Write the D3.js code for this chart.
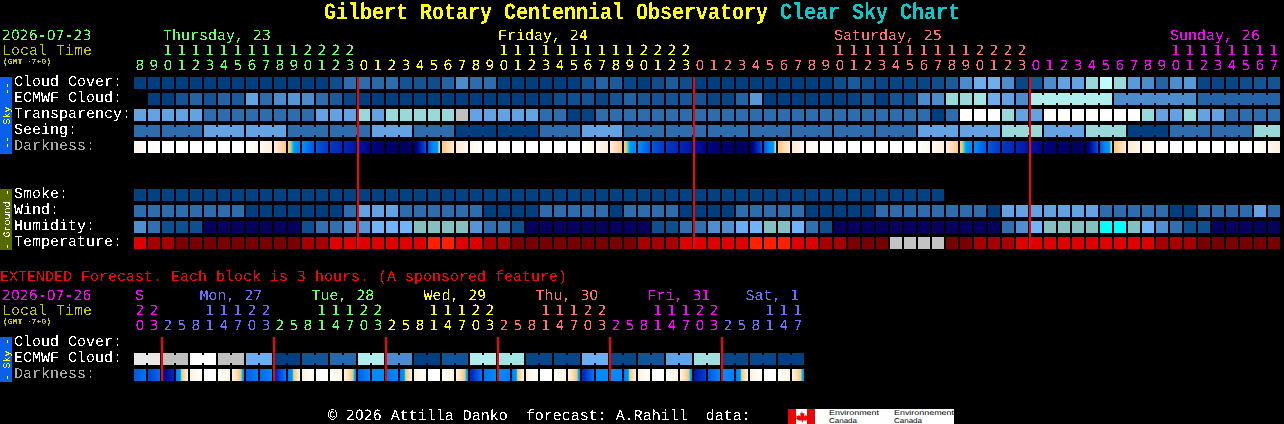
<!DOCTYPE html>
<html><head><meta charset="utf-8">
<style>html,body{margin:0;padding:0;background:#000;overflow:hidden}svg{display:block}
text{font-family:"Liberation Mono",monospace;font-size:15px;white-space:pre;text-rendering:geometricPrecision}</style>
<script src="https://cdn.jsdelivr.net/npm/d3@7/dist/d3.min.js"></script></head><body>
<script>
// ---------- data ----------
const hours=[8,9,10,11,12,13,14,15,16,17,18,19,20,21,22,23,
0,1,2,3,4,5,6,7,8,9,10,11,12,13,14,15,16,17,18,19,20,21,22,23,
0,1,2,3,4,5,6,7,8,9,10,11,12,13,14,15,16,17,18,19,20,21,22,23,
0,1,2,3,4,5,6,7,8,9,10,11,12,13,14,15,16,17];
const extHours=[20,23,2,5,8,11,14,17,20,23,2,5,8,11,14,17,20,23,2,5,8,11,14,17,20,23,2,5,8,11,14,17,20,23,2,5,8,11,14,17,20,23,2,5,8,11,14,17];
const mainDays=[{label:"Thursday, 23",start:2,from:0,to:16,color:"#66ff66"},{label:"Friday, 24",start:25.93,from:16,to:40,color:"#ffff00"},{label:"Saturday, 25",start:49.93,from:40,to:64,color:"#ff7070"},{label:"Sunday, 26",start:73.93,from:64,to:82,color:"#ff00ff"}];
const extDays=[{label:"S",start:0,from:0,to:2,color:"#ff00ff"},{label:"Mon, 27",start:4.6,from:2,to:10,color:"#6f6fff"},{label:"Tue, 28",start:12.6,from:10,to:18,color:"#66ff66"},{label:"Wed, 29",start:20.6,from:18,to:26,color:"#ffff00"},{label:"Thu, 30",start:28.6,from:26,to:34,color:"#ff7070"},{label:"Fri, 31",start:36.6,from:34,to:42,color:"#ff00ff"},{label:"Sat, 1",start:43.6,from:42,to:48,color:"#6f6fff"}];
const cloud=[0,0,0,0,0,0,0,0,0,0,0,0,0,0,1,3,3,2.8,3,1.5,1.5,1,2.5,4,3,3,0,0,0,0,0,0,1.5,2.5,2,.5,0,1,2,1,0,0,0,0,0,0,0,0,0,0,1,2,1,.5,.5,.5,.5,1,2,4,5.5,5.5,4,.5,1.5,4,5,5,7,9,7,4.6,4,2.5,4,4.5,.5,.5,.5,1,1.5,1.5];
const ecmwf=[null,0,0,1.5,2.5,1.5,2.5,2,5,3,4,4.4,4,3,2,.5,0,0,0,0,0,0,0,0,0,0,0,0,0,0,1,1.2,1.5,.5,1.5,2.4,1.7,1.5,1.5,1.7,1.5,.5,.5,2.5,4.5,0,0,0,0,0,0,.3,1.5,0,1.5,1,4,4,7,7,7.5,5.5,5,4,8,8,8,8,8,8,4,4,4,4,4,4,2.5,2.5,2.5,2.5,2.5,2.5];
const ecmwfSpans=[64,6,6,6];
const transparency=[5,5,5,5,5,3,3,3,3,3,3,3,3,5,5,5,7,5,7,7,7,7,7,11,5,5,5,5,5,3,3,0,.3,3,3,3,3,3,3,3,3,3,3,3,3,3,3,3,3,3,3,3,3,3,3,3,3,0,3,10,10,10,7,5,5,10,10,10,10,10,10,10,7,5,5,7,5,5,3,3,3,3];
const seeing=[3,3,3,3,3,5,5,5,5,5,5,3,3,3,3,3,3,5,5,5,3,3,3,0,0,0,0,0,0,3,3,3,5,5,5,3,3,3,3,3,3,3,3,3,3,3,3,3,3,3,3,3,3,3,3,3,5,5,5,5,5,5,7,7,7,5,5,5,7,7,7,0,0,0,3,3,3,3,3,3,7,7];
const seeingSpans=[2,3,3,3,3,3,3,3,3,3,3,3,3,3,3,3,3,3,3,3,3,3,3,3,3,3,3,2];
const darkEdges=[1,.2,0,0,0,0,0,0,0,.7,1.2,2.7,4,5.2,5.8,6.3,6.8,7.3,7.7,8,8,5.2,2.8,1.4,.7,.2,0,0,0,0,0,0,0,.7,1.2,2.7,4,5.2,5.8,6.3,6.8,7.3,7.7,8,8,5.2,2.8,1.4,.7,.2,0,0,0,0,0,0,0,.7,1.2,2.7,4,5.2,5.8,6.3,6.8,7.3,7.7,8,8,5.2,2.8,1.4,.8,.3,0,0,0,0,0,0,0,.7,1.2];
const smoke=[.2,.2,.2,.2,.2,.2,.2,.2,.2,.2,.2,.2,.2,.2,.2,.2,.2,.2,.2,.2,.2,.2,.2,.2,.2,.2,.2,.2,.2,.2,.2,.2,.2,.2,.2,.2,.2,.2,.2,.2,.2,.2,.2,.2,.2,.2,.2,.2,.2,.2,.2,.2,.2,.2,.2,.2,.2,.2];
const wind=[3,3,3,3,3,3,3,3,0,0,0,0,0,0,0,3,5,5,5,3,3,3,3,3,3,0,0,0,0,3,3,3,3,3,0,3,3,3,3,0,0,0,0,3,3,3,3,3,0,0,0,0,0,3,3,3,3,3,3,3,3,0,5,5,5,5,5,5,5,3,3,3,3,3,0,0,3,3,3,3,5,3];
const humidity=[3,2,1,1,1,0,0,0,0,0,0,0,1,2,2,3,3.3,5,5,5,6,6,6,6,3.3,2,2,1,0,0,0,0,0,0,0,0,0,1,1,2,2,3,3,4.6,5,6,6,5,2,1,0,0,0,0,0,0,0,0,0,0,0,0,2,3,5,6,6,6,6,7,7,6,5,3,2,1,1,0,0,0,0,0];
const temperature=[2,1,1,0,0,0,0,0,0,0,0,0,1,1,2,2,2,2,2,2,2,3,3,2,2,1,1,0,0,0,0,0,0,0,0,0,1,1,1,2,2,2,2,2,3,3,3,2,2,1,1,0,0,0,9,9,9,9,0,0,1,1,1,2,2,2,2,2,2,2,2,2,2,1,1,1,0,0,0,0,0,0];
const extEcmwf=[12,11,10,11,5.5,0,1.5,2.7,8,4,0,1.5,8,7.5,.5,.5,5.5,.5,1.5,5,7.3,.5,.5,0];
const extDarkStart=[5.2,5.6,7.6,4.6,1,0,.1,1,5,4.8,6.6,4.6,1,0,.1,1,5,4,4.6,4.6,1,0,.1,1,6.4,4.6,4,4.6,1,0,.1,1,6.4,4,4,4.6,1,0,.1,1,6.8,5.2,4,4.6,1,0,.1,1];
const extDarkEnd=[4.6,4.8,6.2,1,.1,0,1,3.6,4.4,4.2,4.4,1,.1,0,1,3.6,4.2,3.9,4.2,1,.1,0,1,3.6,4.6,4.2,4.4,1,.1,0,1,3.6,4.6,4,4.2,1,.1,0,1,3.6,5.6,4.2,4.4,1,.1,0,1,3.6];
const mainLabels=[["Cloud Cover:",86,"#fff"],["ECMWF Cloud:",102,"#fff"],["Transparency:",118,"#fff"],["Seeing:",134,"#fff"],["Darkness:",150,"#a8a8a8"],["Smoke:",198,"#fff"],["Wind:",214,"#fff"],["Humidity:",230,"#fff"],["Temperature:",246,"#fff"],["Cloud Cover:",346,"#fff"],["ECMWF Cloud:",362,"#fff"],["Darkness:",378,"#a8a8a8"]];

// ---------- scales ----------
const W=1284,H=424,CELL=12;
const x=d3.scaleLinear().domain([0,82]).range([134,134+82*14]);
const cloudColor=d3.scaleLinear().domain([0,1,2,3,4,5,6,7,8,9,10,11,12])
 .range(["#003f7f","#0f4d8d","#1b5b9b","#2d6dad","#4c8ccc","#63a3e3","#78b8f8","#99d9d9","#b0eeee","#bffcff","#ffffff","#c0c0c0","#e8e8e8"]);
const humColor=d3.scaleLinear().domain([0,1,2,3,4,5,6,7])
 .range(["#08005e","#0d4f8f","#3070b0","#4f8fcf","#60a0e8","#70b4fa","#85c0c0","#00ffff"]);
const tempColor=d3.scaleOrdinal().domain([0,1,2,3,9]).range(["#780000","#a80000","#e00000","#ff2000","#c3c3c3"]);
const darkColor=d3.scaleLinear().domain([0,1,2,2.9,3.15,3.3,3.5,4.2,5,5.5,6,6.5,7,7.5,8])
 .range(["#ffffff","#fff3e6","#ffdcb4","#ffc070","#00e6d0","#00a0ff","#0090ff","#0088f8","#0060e8","#0048d8","#0030c0","#0020b0","#000c98","#000078","#000060"]);

const svg=d3.select("body").append("svg").attr("width",W).attr("height",H).style("background","#000");
const defs=svg.append("defs");
const f=defs.append("filter").attr("id","crisp").attr("filterUnits","userSpaceOnUse").attr("x",0).attr("y",0).attr("width",W).attr("height",H).attr("color-interpolation-filters","sRGB");
f.append("feComponentTransfer").append("feFuncA").attr("type","discrete").attr("tableValues","0 0 0 1 1 1");
const marks=svg.append("g");
const txt=svg.append("g").attr("filter","url(#crisp)");

// ---------- cells ----------
function row(values,y,color,spans){
 const g=marks.append("g");
 g.selectAll("rect.c").data(values.map((v,i)=>({v,i})).filter(d=>d.v!==null)).join("rect")
  .attr("class","c").attr("x",d=>x(d.i)).attr("y",y).attr("width",CELL).attr("height",CELL).attr("fill",d=>color(d.v));
 if(spans){
  const links=[];let p=0;
  spans.forEach((s,k)=>{
    const grouped=(spans===ecmwfSpans&&k===0)?false:true;
    if(grouped) for(let j=p;j<p+s-1;j++) links.push(j);
    p+=s;
  });
  g.selectAll("rect.b").data(links).join("rect").attr("class","b")
   .attr("x",i=>x(i)+CELL).attr("y",y+2).attr("width",2).attr("height",CELL-4).attr("fill",i=>color(values[i]));
 }
}
function darkRow(starts,ends,y){
 const px=d3.range(CELL);
 const g=marks.append("g");
 starts.forEach((s,i)=>{
  const t=d3.interpolateNumber(s,ends[i]);
  g.append("g").selectAll("rect").data(px).join("rect")
   .attr("x",k=>x(i)+k).attr("y",y).attr("width",1).attr("height",CELL)
   .attr("fill",k=>darkColor(t((k+.5)/CELL)));
 });
}
row(cloud,77,cloudColor);
row(ecmwf,93,cloudColor,ecmwfSpans);
row(transparency,109,cloudColor);
row(seeing,125,cloudColor,seeingSpans);
darkRow(darkEdges.slice(0,82),darkEdges.slice(1,83),141);
row(smoke,189,cloudColor);
row(wind,205,cloudColor);
row(humidity,221,humColor);
row(temperature,237,tempColor);
const extValues=[];extEcmwf.forEach(v=>{extValues.push(v,v);});
row(extValues,353,cloudColor,extEcmwf.map(()=>2));
darkRow(extDarkStart,extDarkEnd,369);

// ---------- midnight lines ----------
const mids=hours.map((h,i)=>h===0?i:null).filter(v=>v!==null);
marks.append("g").selectAll("rect").data(mids).join("rect").attr("x",i=>x(i)-1).attr("y",77).attr("width",2).attr("height",172).attr("fill","#ff0000");
const extMids=extDays.slice(1).map(d=>d.from);
marks.append("g").selectAll("rect").data(extMids).join("rect").attr("x",i=>x(i)-1).attr("y",337).attr("width",2).attr("height",44).attr("fill","#ff0000");

// ---------- side bars ----------
function side(y0,y1,fill,color,label){
 marks.append("rect").attr("x",0).attr("y",y0).attr("width",12).attr("height",y1-y0).attr("fill",fill);
 txt.append("text").attr("transform",`translate(9.5,${(y0+y1)/2}) rotate(-90)`).attr("text-anchor","middle")
  .style("font-size","10px").attr("fill",color).text(label);
}
side(77,154,"#0a60e8","#ffff00","--  Sky  --");
side(189,250,"#556b00","#ffffff","- Ground -");
side(337,382,"#0a60e8","#ffff00","- Sky -");

// ---------- text ----------
const digitFont="'DejaVu Sans'";
const T=(s,px,py,c,size)=>{
 const t=txt.append("text").attr("x",px).attr("y",py).attr("fill",c);
 if(size){t.style("font-size",size+"px").style("font-weight","bold").text(s);return t;}
 s.split(/(\d+)/).filter(p=>p.length).forEach(p=>{
  const sp=t.append("tspan").text(p);
  if(/^\d+$/.test(p)) sp.style("font-family",digitFont).style("font-size","14px");
 });
 return t;
};
const title=txt.append("text").attr("transform","translate(324,19) scale(1,1.15)").style("font-size","20px").style("font-weight","bold");
title.append("tspan").attr("fill","#ffff00").text("Gilbert Rotary Centennial Observatory ");
title.append("tspan").attr("fill","#00cccc").text("Clear Sky Chart");
mainLabels.forEach(l=>T(l[0],14,l[1],l[2]));
T("2026-07-23",2,40,"#66ff66");T("Local Time",2,55,"#c8c800");T("(GMT -7+0)",3,64,"#c8c800",8);
T("2026-07-26",2,300,"#ff00ff");T("Local Time",2,315,"#c8c800");T("(GMT -7+0)",3,324,"#c8c800",8);
T("EXTENDED Forecast. Each block is 3 hours. (A sponsored feature)",0,281,"#ff0000");
T("© 2026 Attilla Danko  forecast: A.Rahill  data:",328,420,"#ffffff");

function axis(hrs,days,yDay,yTens,yUnits){
 days.forEach(d=>{
  T(d.label,x(d.start)+1,yDay,d.color);
  const g=txt.append("g").attr("fill",d.color);
  const idx=d3.range(d.from,d.to);
  g.selectAll("text.t").data(idx.filter(i=>hrs[i]>=10)).join("text").attr("class","t")
   .attr("x",i=>x(i)+6).attr("y",yTens).attr("text-anchor","middle").style("font-size","14px").style("font-family",digitFont)
   .text(i=>Math.floor(hrs[i]/10));
  g.selectAll("text.u").data(idx).join("text").attr("class","u")
   .attr("x",i=>x(i)+6).attr("y",yUnits).attr("text-anchor","middle").style("font-size","14px").style("font-family",digitFont)
   .text(i=>hrs[i]%10);
 });
}
axis(hours,mainDays,40,55,70);
axis(extHours,extDays,300,315,330);

// ---------- logo ----------
const logo=marks.append("g");
logo.append("rect").attr("x",788).attr("y",409).attr("width",166).attr("height",15).attr("fill","#fff");
logo.append("rect").attr("x",788).attr("y",409).attr("width",8).attr("height",15).attr("fill","#f00000");
logo.append("rect").attr("x",807).attr("y",409).attr("width",8).attr("height",15).attr("fill","#f00000");
logo.append("path").attr("d","M801.5 411l1.5 2.5 1.5-.5-.5 3.5 2-1.5 .5 1 2-.3-.7 2 1 .7-3 2.2-3 -.2 0 2h-1v-2l-3 .2-3-2.2 1-.7-.7-2 2 .3 .5-1 2 1.5-.5-3.5 1.5 .5z").attr("fill","#f00000");
[["Environment",829,415,50],["Canada",829,423,28],["Environnement",894,415,60],["Canada",894,423,28]].forEach(a=>{
 logo.append("text").attr("x",a[1]).attr("y",a[2]).attr("textLength",a[3]).attr("lengthAdjust","spacingAndGlyphs")
  .attr("fill","#000").style("font-size","7px").style("font-family","'Liberation Sans'").text(a[0]);
});
</script></body></html>
